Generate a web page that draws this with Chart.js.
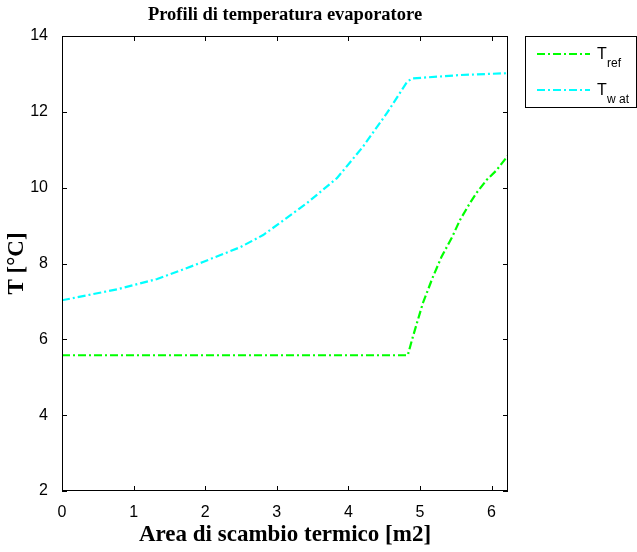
<!DOCTYPE html>
<html>
<head>
<meta charset="utf-8">
<script src="https://cdn.jsdelivr.net/npm/chart.js@4"></script>
<style>
  html, body { margin: 0; padding: 0; background: #fff; }
  #wrap { width: 637px; height: 552px; }
</style>
</head>
<body>
<div id="wrap"><canvas id="evapChart" width="637" height="552"></canvas></div>
<script>
// data
const areaRef = [0, 4.83, 4.90, 5.04, 5.18, 5.30, 5.45, 5.56, 5.70, 5.79, 5.93, 6.07, 6.23];
const tempRef = [5.58, 5.58, 6.06, 6.95, 7.64, 8.17, 8.70, 9.15, 9.60, 9.86, 10.20, 10.46, 10.85];
const areaWat = [0, 0.77, 1.33, 1.97, 2.49, 2.81, 3.42, 3.84, 4.20, 4.54, 4.82, 4.89, 5.56, 6.23];
const tempWat = [7.03, 7.32, 7.59, 8.04, 8.43, 8.75, 9.59, 10.25, 11.07, 11.97, 12.79, 12.88, 12.97, 13.02];
const xTicks = [0, 1, 2, 3, 4, 5, 6];
const yTicks = [2, 4, 6, 8, 10, 12, 14];
const seriesNames = ['T', 'T'];
const seriesSubs = ['ref', 'w at'];

const toPoints = (xs, ys) => xs.map((x, i) => ({ x: x, y: ys[i] }));
const dashDot = [8, 3, 2, 3];

// box + inward ticks, matlab style
const boxPlugin = {
    id: 'boxTicks',
    afterDraw(chart) {
        const c = chart.ctx;
        const a = chart.chartArea;
        const sx = chart.scales.x, sy = chart.scales.y;
        c.save();
        c.strokeStyle = '#000';
        c.lineWidth = 1;
        c.setLineDash([]);
        c.strokeRect(a.left + 0.5, a.top + 0.5, a.right - a.left - 1, a.bottom - a.top - 1);
        c.beginPath();
        xTicks.forEach(v => {
            const px = Math.round(sx.getPixelForValue(v)) + 0.5;
            c.moveTo(px, a.bottom); c.lineTo(px, a.bottom - 5);
            c.moveTo(px, a.top); c.lineTo(px, a.top + 5);
        });
        yTicks.forEach(v => {
            const py = Math.round(sy.getPixelForValue(v)) + 0.5;
            c.moveTo(a.left, py); c.lineTo(a.left + 5, py);
            c.moveTo(a.right, py); c.lineTo(a.right - 5, py);
        });
        c.stroke();

        // title, centred on the plot area
        c.fillStyle = '#000';
        c.font = 'bold 18.5px "Liberation Serif"';
        c.textAlign = 'center';
        c.textBaseline = 'middle';
        c.fillText('Profili di temperatura evaporatore', (a.left + a.right) / 2, 15);

        // legend box
        const lx = 525.5, ly = 36.5, lw = 111, lh = 71;
        c.fillStyle = '#fff';
        c.fillRect(lx, ly, lw, lh);
        c.strokeRect(lx, ly, lw, lh);
        chart.data.datasets.forEach((ds, i) => {
            const y = 54 + i * 36;
            c.strokeStyle = ds.borderColor;
            c.lineWidth = 2;
            c.setLineDash(dashDot);
            c.beginPath();
            c.moveTo(537, y); c.lineTo(590, y);
            c.stroke();
            c.setLineDash([]);
            c.fillStyle = '#000';
            c.textAlign = 'left';
            c.textBaseline = 'alphabetic';
            c.font = '16px "Liberation Sans"';
            c.fillText(seriesNames[i], 597, y + 5);
            c.font = '12px "Liberation Sans"';
            c.fillText(seriesSubs[i], 607, y + 13);
        });
        c.restore();
    }
};

const ctx = document.getElementById('evapChart').getContext('2d');
const evapChart = new Chart(ctx, {
    type: 'line',
    data: {
        datasets: [
            {
                label: 'Tref',
                data: toPoints(areaRef, tempRef),
                borderColor: '#00ff00',
                borderWidth: 2.2,
                borderDash: dashDot,
                pointRadius: 0,
                tension: 0,
                fill: false
            },
            {
                label: 'Twat',
                data: toPoints(areaWat, tempWat),
                borderColor: '#00ffff',
                borderWidth: 2.2,
                borderDash: dashDot,
                pointRadius: 0,
                tension: 0,
                fill: false
            }
        ]
    },
    options: {
        responsive: false,
        animation: false,
        events: [],
        layout: { padding: { top: 36, right: 129, left: 0, bottom: 0 } },
        plugins: {
            legend: { display: false },
            title: { display: false },
            tooltip: { enabled: false }
        },
        scales: {
            x: {
                type: 'linear',
                min: 0,
                max: 6.23,
                afterFit: s => { s.height = 61; },
                afterBuildTicks: s => { s.ticks = xTicks.map(v => ({ value: v })); },
                grid: { display: false },
                border: { display: false },
                ticks: {
                    color: '#000',
                    padding: 4,
                    font: { family: 'Liberation Sans', size: 16 }
                },
                title: {
                    display: true,
                    text: 'Area di scambio termico [m2]',
                    color: '#000',
                    padding: { top: 0, bottom: 3 },
                    font: { family: 'Liberation Serif', size: 23, weight: 'bold' }
                }
            },
            y: {
                type: 'linear',
                min: 2,
                max: 14,
                afterFit: s => { s.width = 62; },
                afterBuildTicks: s => { s.ticks = yTicks.map(v => ({ value: v })); },
                grid: { display: false },
                border: { display: false },
                ticks: {
                    color: '#000',
                    padding: 6,
                    font: { family: 'Liberation Sans', size: 16 }
                },
                title: {
                    display: true,
                    text: 'T [°C]',
                    color: '#000',
                    padding: { top: 3, bottom: 0 },
                    font: { family: 'Liberation Serif', size: 23, weight: 'bold' }
                }
            }
        }
    },
    plugins: [boxPlugin]
});
</script>
</body>
</html>
